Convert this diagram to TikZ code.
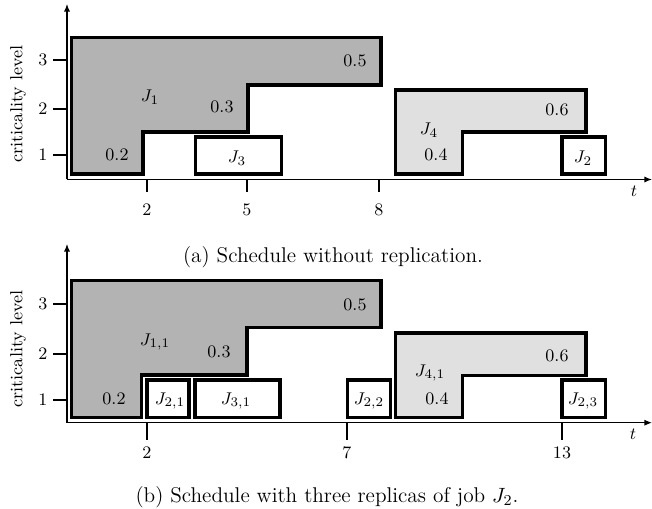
\documentclass[tikz,border=0pt]{standalone}
\usetikzlibrary{arrows.meta}
\definecolor{jobdark}{RGB}{179,179,179}
\definecolor{joblight}{RGB}{224,224,224}
\begin{document}
\begin{tikzpicture}[x=0.53pt,y=-0.53pt,
  axis/.style={line width=0.6pt,-{Latex[length=4pt,width=3.2pt]}},
  tickline/.style={line width=0.7pt},
  jobline/.style={line width=1.6pt,line join=miter},
  darkjob/.style={jobline,fill=jobdark},
  lightjob/.style={jobline,fill=joblight},
  whitejob/.style={jobline,fill=white},
  lbl/.style={inner sep=0pt,font=\fontsize{9.3}{11}\selectfont},
  captext/.style={inner sep=0pt,font=\fontsize{11.3}{13.5}\selectfont}]
\useasboundingbox (0,0) rectangle (652,509);

% ---------- (a) ----------
\coordinate (oa) at (67,179.5);
\coordinate (ya) at (67,4);
\coordinate (xa) at (652,179.5);
\draw[darkjob] (71.5,37.5) -- (381,37.5) -- (381,85) -- (248,85) -- (248,132) -- (143,132) -- (143,174) -- (71.5,174) -- cycle;
\draw[lightjob] (395.7,90) -- (586,90) -- (586,132) -- (462.7,132) -- (462.7,174) -- (395.7,174) -- cycle;
\draw[whitejob] (195.7,137) rectangle (281.5,174);
\draw[whitejob] (562,137) rectangle (605.5,174);
\draw[axis] (oa) -- (ya);
\draw[axis] (oa) -- (xa);
\foreach \yy/\lv in {60/3,109/2,155/1}{
  \draw[tickline] (53,\yy) -- (67,\yy);
  \node[lbl] at (43,\yy) {\lv};
}
\foreach \xx/\tv in {147/2,247/5,379/8}{
  \draw[tickline] (\xx,179.5) -- (\xx,192);
  \node[lbl] at (\xx,210) {\tv};
}
\node[lbl,rotate=90] (ylabA) at (18,104) {criticality level};
\node[lbl] (tA) at (634,191) {$t$};
\node[lbl] (j1) at (150,97) {$J_1$};
\node[lbl] (a03) at (222,107) {0.3};
\node[lbl] (a02) at (117,155) {0.2};
\node[lbl] (a05) at (355,61) {0.5};
\node[lbl] (j3) at (237,158) {$J_3$};
\node[lbl] (j4) at (429,130) {$J_4$};
\node[lbl] (a04) at (436,155) {0.4};
\node[lbl] (a06) at (557,110) {0.6};
\node[lbl] (j2) at (583,158) {$J_2$};
\node[captext] (capA) at (333,257) {(a) Schedule without replication.};

% ---------- (b) ----------
\coordinate (ob) at (67,422.7);
\coordinate (yb) at (67,244);
\coordinate (xb) at (652,422.7);
\draw[darkjob] (71.5,280.5) -- (381,280.5) -- (381,327.5) -- (247,327.5) -- (247,375) -- (141.5,375) -- (141.5,417.5) -- (71.5,417.5) -- cycle;
\draw[lightjob] (395.7,333) -- (586,333) -- (586,375.5) -- (462.7,375.5) -- (462.7,417.5) -- (395.7,417.5) -- cycle;
\draw[whitejob] (147,380) rectangle (189,417.5);
\draw[whitejob] (195,380) rectangle (280,417.5);
\draw[whitejob] (347.5,380) rectangle (390.5,417.5);
\draw[whitejob] (562,380) rectangle (605.5,417.5);
\draw[axis] (ob) -- (yb);
\draw[axis] (ob) -- (xb);
\foreach \yy/\lv in {304/3,354/2,400/1}{
  \draw[tickline] (53,\yy) -- (67,\yy);
  \node[lbl] at (43,\yy) {\lv};
}
\foreach \xx/\tv in {147/2,347/7,562/13}{
  \draw[tickline] (\xx,422.7) -- (\xx,440);
  \node[lbl] at (\xx,453) {\tv};
}
\node[lbl,rotate=90] (ylabB) at (18,349) {criticality level};
\node[lbl] (tB) at (633,434) {$t$};
\node[lbl] (j11) at (155,342) {$J_{1,1}$};
\node[lbl] (b03) at (219,352) {0.3};
\node[lbl] (b02) at (114,399) {0.2};
\node[lbl] (b05) at (355,305) {0.5};
\node[lbl] (j21) at (170,401) {$J_{2,1}$};
\node[lbl] (j31) at (236,401) {$J_{3,1}$};
\node[lbl] (j22) at (369,401) {$J_{2,2}$};
\node[lbl] (j41) at (430,373) {$J_{4,1}$};
\node[lbl] (b04) at (437,399) {0.4};
\node[lbl] (b06) at (557,356) {0.6};
\node[lbl] (j23) at (583,401) {$J_{2,3}$};
\node[captext] (capB) at (327,497) {(b) Schedule with three replicas of job $J_2$.};
\end{tikzpicture}
\end{document}
